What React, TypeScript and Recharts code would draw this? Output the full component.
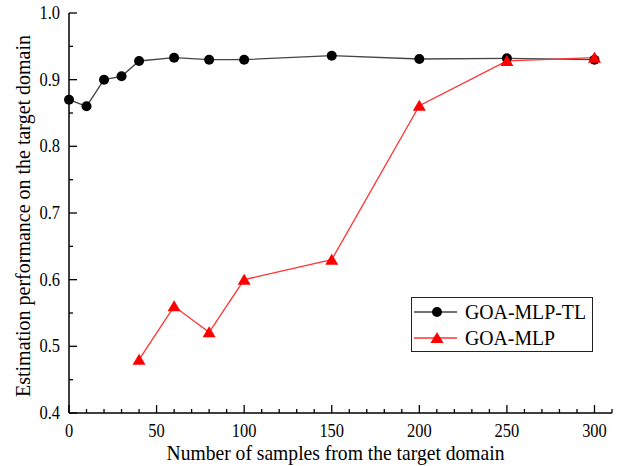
import { Legend, Line, LineChart, XAxis, YAxis } from "recharts";

const samples = [0, 10, 20, 30, 40, 60, 80, 100, 150, 200, 250, 300];
const goaMlpTl = [0.87, 0.86, 0.9, 0.905, 0.928, 0.933, 0.93, 0.93, 0.936, 0.931, 0.932, 0.93];
const goaMlp = [null, null, null, null, 0.48, 0.56, 0.521, 0.6, 0.63, 0.861, 0.928, 0.933];

const xTicks = [0, 10, 20, 30, 40, 50, 60, 70, 80, 90, 100, 110, 120, 130, 140, 150, 160, 170, 180, 190, 200, 210, 220, 230, 240, 250, 260, 270, 280, 290, 300, 310];
const xLabels = [0, 50, 100, 150, 200, 250, 300];
const yTicks = [0.4, 0.45, 0.5, 0.55, 0.6, 0.65, 0.7, 0.75, 0.8, 0.85, 0.9, 0.95, 1.0];
const yLabels = ["0.4", "0.5", "0.6", "0.7", "0.8", "0.9", "1.0"];

const data = samples.map((n, i) => ({
  n,
  tl: goaMlpTl[i],
  mlp: goaMlp[i],
}));

const FONT = "Liberation Serif, serif";
// the reference is a bit narrower than tall, so squeeze the text horizontally
const SQUEEZE = 0.89;

// digit width 0.5em, dot 0.25em for the Times-like font
const numWidth = (s: string, size: number) =>
  [...s].reduce((w, c) => w + (c === "." ? 0.25 : 0.5), 0) * size * SQUEEZE;

function XTick({ x, y, payload }: any) {
  const major = xLabels.includes(payload.value);
  const s = String(payload.value);
  return (
    <g>
      <line x1={x} x2={x} y1={y} y2={y - (major ? 8 : 4)} stroke="#000" strokeWidth={1.3} />
      {major && (
        <text
          x={x}
          y={y + 24}
          textAnchor="middle"
          textLength={numWidth(s, 18.5)}
          lengthAdjust="spacingAndGlyphs"
          style={{ fontFamily: FONT, fontSize: 18.5 }}
          fill="#000"
        >
          {s}
        </text>
      )}
    </g>
  );
}

function YTick({ x, y, payload }: any) {
  const label = payload.value.toFixed(1);
  const major = yLabels.includes(label) && Math.abs(payload.value * 10 - Math.round(payload.value * 10)) < 1e-6;
  return (
    <g>
      <line x1={x} x2={x + (major ? 8 : 4)} y1={y} y2={y} stroke="#000" strokeWidth={1.3} />
      {major && (
        <text
          x={x - 9}
          y={y + 6}
          textAnchor="end"
          textLength={numWidth(label, 18.5)}
          lengthAdjust="spacingAndGlyphs"
          style={{ fontFamily: FONT, fontSize: 18.5 }}
          fill="#000"
        >
          {label}
        </text>
      )}
    </g>
  );
}

function XTitle({ viewBox }: any) {
  return (
    <text
      x={viewBox.x + viewBox.width / 2 - 5}
      y={viewBox.y + 47}
      textAnchor="middle"
      textLength={338}
      lengthAdjust="spacingAndGlyphs"
      style={{ fontFamily: FONT, fontSize: 22 }}
      fill="#000"
    >
      Number of samples from the target domain
    </text>
  );
}

function YTitle({ viewBox }: any) {
  const cx = viewBox.x + 30;
  const cy = viewBox.y + viewBox.height / 2 + 3;
  return (
    <text
      x={cx}
      y={cy}
      transform={`rotate(-90, ${cx}, ${cy})`}
      textAnchor="middle"
      textLength={362}
      lengthAdjust="spacingAndGlyphs"
      style={{ fontFamily: FONT, fontSize: 21 }}
      fill="#000"
    >
      Estimation performance on the target domain
    </text>
  );
}

function Triangle({ cx, cy }: any) {
  if (cx == null || cy == null) return null;
  return <path d={`M${cx},${cy - 6} L${cx + 6.5},${cy + 5} L${cx - 6.5},${cy + 5} Z`} fill="#ff0000" />;
}

function LegendBox() {
  return (
    <svg width={182} height={55} style={{ display: "block" }}>
      <rect x={0.5} y={0.5} width={181} height={54} fill="#fff" stroke="#222" strokeWidth={1} />
      <line x1={3} x2={46} y1={15} y2={15} stroke="#444" strokeWidth={1.3} />
      <circle cx={26} cy={15} r={5} fill="#000" />
      <text x={54} y={22} textLength={121} lengthAdjust="spacingAndGlyphs" style={{ fontFamily: FONT, fontSize: 21 }} fill="#000">
        GOA-MLP-TL
      </text>
      <line x1={3} x2={46} y1={41} y2={41} stroke="#ff3333" strokeWidth={1.3} />
      <path d="M26,35 L32.5,46 L19.5,46 Z" fill="#ff0000" />
      <text x={54} y={48} textLength={90} lengthAdjust="spacingAndGlyphs" style={{ fontFamily: FONT, fontSize: 21 }} fill="#000">
        GOA-MLP
      </text>
    </svg>
  );
}

export default function App() {
  return (
    <div style={{ position: "absolute", left: 0, top: 0, background: "#fff", fontFamily: FONT }}>
      <LineChart width={617} height={466} data={data} margin={{ top: 13, right: 5, left: 0, bottom: 0 }}>
        <XAxis
          dataKey="n"
          type="number"
          domain={[0, 310]}
          ticks={xTicks}
          interval={0}
          height={53}
          tickSize={0}
          tickMargin={0}
          tickLine={false}
          axisLine={{ stroke: "#000", strokeWidth: 1.5 }}
          tick={<XTick />}
          label={<XTitle />}
        />
        <YAxis
          type="number"
          domain={[0.4, 1.0]}
          ticks={yTicks}
          interval={0}
          width={69}
          tickSize={0}
          tickMargin={0}
          tickLine={false}
          axisLine={{ stroke: "#000", strokeWidth: 1.5 }}
          tick={<YTick />}
          label={<YTitle />}
        />
        <Legend
          layout="horizontal"
          verticalAlign="middle"
          align="center"
          wrapperStyle={{ left: 411, top: 297, width: 182, height: 55 }}
          content={() => <LegendBox />}
        />
        <Line
          dataKey="tl"
          name="GOA-MLP-TL"
          stroke="#444"
          strokeWidth={1.3}
          dot={{ r: 5, fill: "#000", stroke: "#000", strokeWidth: 0 }}
          activeDot={false}
          isAnimationActive={false}
        />
        <Line
          dataKey="mlp"
          name="GOA-MLP"
          stroke="#ff3333"
          strokeWidth={1.3}
          dot={<Triangle />}
          activeDot={false}
          isAnimationActive={false}
        />
      </LineChart>
    </div>
  );
}
